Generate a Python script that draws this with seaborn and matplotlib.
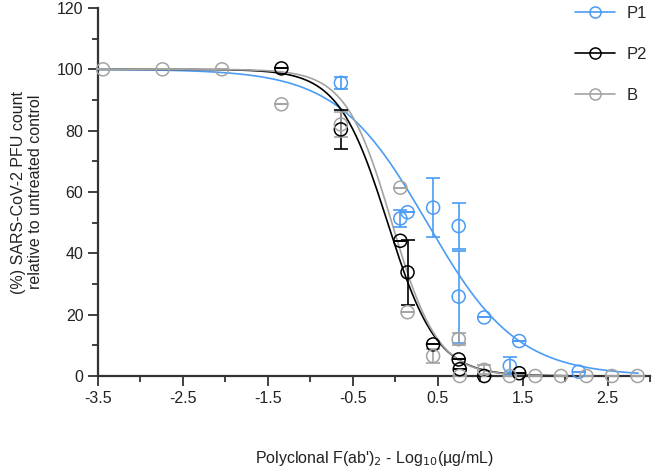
import numpy as np
import pandas as pd
import matplotlib
matplotlib.use("Agg")
import matplotlib.pyplot as plt
from matplotlib.lines import Line2D
import seaborn as sns

# data (log10 ug/mL, % PFU)
p1_x = [-0.64, 0.06, 0.145, 0.446, 0.747, 0.747, 1.048, 1.349, 1.46, 2.16]
p1_y = [95.6, 51.4, 53.4, 54.9, 48.9, 25.9, 19.1, 3.3, 11.4, 1.4]
p1_err = [2.0, 2.8, 0, 9.7, 7.6, 15.0, 0, 3.0, 0, 0]

p2_x = [-1.34, -0.64, 0.06, 0.145, 0.446, 0.747, 0.76, 1.048, 1.46]
p2_y = [100.3, 80.4, 44.1, 33.8, 10.3, 5.4, 2.2, 0.0, 0.9]
p2_err = [0, 6.5, 0, 10.6, 0, 0, 0, 0, 0]

b_x = [-3.44, -2.74, -2.04, -1.34, -0.64, 0.06, 0.145, 0.446, 0.747, 0.76,
       1.048, 1.349, 1.65, 1.951, 2.252, 2.553, 2.854]
b_y = [100, 100, 100, 88.6, 82.0, 61.4, 20.8, 6.5, 12.0, 0.0,
       2.0, 0, 0, 0, 0, 0, 0]
b_err = [0, 0, 0, 0, 4.0, 0, 0, 2.3, 2.0, 0, 1.5, 0, 0, 0, 0, 0, 0]

# fitted dose-response (top 100, bottom 0, logIC50, hill slope)
series = ["P1", "P2", "B"]
fit_logic50 = [0.375, -0.09, -0.04]
fit_hill = [0.82, 1.5, 1.6]
colors = {"P1": "#4a9cf5", "P2": "#000000", "B": "#a3a3a3"}

points = {"P1": (p1_x, p1_y, p1_err), "P2": (p2_x, p2_y, p2_err), "B": (b_x, b_y, b_err)}

xs = np.linspace(-3.5, 2.86, 300)
curve = pd.concat([
    pd.DataFrame({"x": xs, "y": 100 / (1 + 10 ** ((xs - c) * h)), "series": s})
    for s, c, h in zip(series, fit_logic50, fit_hill)
])

sns.set_style("ticks")
plt.rcParams["font.family"] = ["Liberation Sans", "DejaVu Sans"]

fig = plt.figure(figsize=(6.57, 4.72), dpi=100)
ax = fig.add_axes([98 / 657, 1 - 376 / 472, 552 / 657, 368 / 472])

sns.lineplot(data=curve, x="x", y="y", hue="series", palette=colors, ax=ax,
             legend=False, linewidth=1.2)

for s in series:
    x, y, e = points[s]
    col = colors[s]
    ax.errorbar(x, y, yerr=e, fmt="none", ecolor=col, elinewidth=1.2,
                capsize=5, capthick=1.2, clip_on=False, zorder=3)
    sns.scatterplot(x=x, y=y, ax=ax, marker="o", s=88, facecolors="none",
                    edgecolor=col, linewidth=1.1, clip_on=False, zorder=4)

ax.set_xlim(-3.5, 3.0)
ax.set_ylim(0, 120)
ax.set_xticks(np.arange(-3.5, 3.0, 1.0))
ax.set_xticks(np.arange(-3.5, 3.01, 0.5), minor=True)
ax.set_xticklabels(["-3.5", "-2.5", "-1.5", "-0.5", "0.5", "1.5", "2.5"])
ax.set_yticks(np.arange(0, 121, 20))
ax.set_yticks(np.arange(0, 121, 10), minor=True)
ax.tick_params(which="both", direction="out", color="#333333", width=1.3,
               labelsize=11.5, labelcolor="#222222")
ax.tick_params(which="major", length=7)
ax.tick_params(which="minor", length=4.5)
for sp in ["left", "bottom"]:
    ax.spines[sp].set_linewidth(1.6)
    ax.spines[sp].set_color("#333333")
sns.despine(ax=ax)

ax.set_xlabel("Polyclonal F(ab')$_2$ - Log$_{10}$(\u00b5g/mL)", fontsize=11.5,
              color="#222222", labelpad=31)
ax.set_ylabel("(%) SARS-CoV-2 PFU count\nrelative to untreated control",
              fontsize=11.5, color="#222222", labelpad=10)

handles = [Line2D([], [], color=colors[s], marker="o", markersize=8,
                  markerfacecolor="none", markeredgewidth=1.1, linewidth=1.2)
           for s in series]
fig.legend(handles, series, loc="upper left", bbox_to_anchor=(575 / 657, 1 - 6 / 472),
           frameon=False, fontsize=12, handlelength=2.4, handletextpad=0.7,
           labelspacing=1.55, borderpad=0, borderaxespad=0)

fig.savefig("out.png", dpi=100)
